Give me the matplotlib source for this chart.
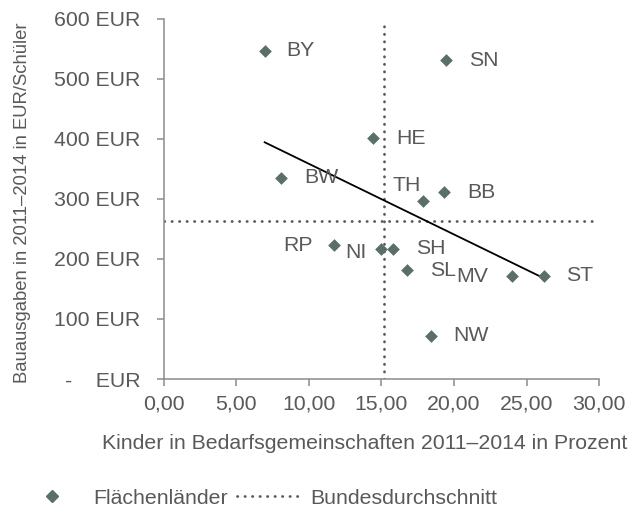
import numpy as np
import matplotlib
matplotlib.use("Agg")
import matplotlib.pyplot as plt
from matplotlib.lines import Line2D

# Daten
laender = ["BY", "SN", "HE", "BW", "TH", "BB", "RP", "NI", "SH", "SL", "MV", "ST", "NW"]
kinder_prozent = [6.95, 19.45, 14.45, 8.1, 17.85, 19.3, 11.75, 14.95, 15.8, 16.75, 24.0, 26.2, 18.4]
bauausgaben = [547, 531, 401, 335, 296, 311, 223, 217, 217, 181, 171, 172, 72]
bund_x = 15.2
bund_y = 264

x_ticks = [0, 5, 10, 15, 20, 25, 30]
y_ticks = [0, 100, 200, 300, 400, 500, 600]

# Beschriftungspositionen (Pixelversatz, Ausrichtung)
label_offsets = {
    "BY": (22, 0, "left"), "SN": (23, 0, "left"), "HE": (23, 0, "left"),
    "BW": (23, 0, "left"), "TH": (-2, 16, "right"), "BB": (23, 0, "left"),
    "RP": (-22, 0, "right"), "NI": (-14, -4, "right"), "SH": (23, 0, "left"),
    "SL": (23, 0, "left"), "MV": (-24, 0, "right"), "ST": (22, 0, "left"),
    "NW": (22, 0, "left"),
}

textfarbe = "#595959"
punktfarbe = "#5a7066"
achsenfarbe = "#8c8c8c"
fs = 15.3

plt.rcParams['font.family'] = ['Liberation Sans', 'DejaVu Sans']

fig = plt.figure(figsize=(6.4, 5.09), dpi=100)
ax = fig.add_axes([0.256, 0.2554, 0.68, 0.7073])

# Bundesdurchschnitt
ax.axvline(bund_x, ymax=0.99, color=textfarbe, lw=2.0, linestyle=(0, (0.1, 2.6)),
           dash_capstyle='round', zorder=1)
ax.axhline(bund_y, xmax=0.995, color=textfarbe, lw=2.0, linestyle=(0, (0.1, 2.6)),
           dash_capstyle='round', zorder=1)

# Punkte
ax.scatter(kinder_prozent, bauausgaben, marker='D', s=42, color=punktfarbe,
           linewidths=0, zorder=3)

# lineare Trendlinie
m, b = np.polyfit(kinder_prozent, bauausgaben, 1)
xs = np.array([min(kinder_prozent), max(kinder_prozent)])
ax.plot(xs, m * xs + b, color='black', lw=1.3, zorder=2)

for name, x, y in zip(laender, kinder_prozent, bauausgaben):
    dx, dy, ha = label_offsets[name]
    ax.annotate(name, (x, y), xytext=(dx, dy), textcoords='offset pixels',
                ha=ha, va='center', fontsize=fs, color=textfarbe)

ax.set_xlim(0, 30)
ax.set_ylim(0, 600)
ax.set_xticks(x_ticks)
ax.set_yticks(y_ticks)
ax.set_xticklabels([f"{v:.2f}".replace(".", ",") for v in x_ticks])
ax.set_yticklabels(["-    EUR" if v == 0 else f"{v} EUR" for v in y_ticks])

for side in ["top", "right"]:
    ax.spines[side].set_visible(False)
for side in ["left", "bottom"]:
    ax.spines[side].set_color(achsenfarbe)
    ax.spines[side].set_linewidth(1.1)
ax.tick_params(axis='both', direction='out', length=5, width=1.1,
               color=achsenfarbe, labelcolor=textfarbe, labelsize=fs)
ax.tick_params(axis='y', pad=12)
ax.tick_params(axis='x', pad=6)

ax.set_xlabel("Kinder in Bedarfsgemeinschaften 2011–2014 in Prozent",
              fontsize=fs, color=textfarbe)
ax.xaxis.set_label_coords(0.462, -0.152)
ax.set_ylabel("Bauausgaben in 2011–2014 in EUR/Schüler", fontsize=13.3,
              color=textfarbe)
ax.yaxis.set_label_coords(-0.306, 0.49)

handles = [
    Line2D([], [], marker='D', color=punktfarbe, linestyle='none', markersize=6.5),
    Line2D([], [], color=textfarbe, lw=2.0, linestyle=(0, (0.1, 2.6)),
           dash_capstyle='round'),
]
fig.legend(handles, ["Flächenländer", "Bundesdurchschnitt"], ncol=2,
           loc='center', bbox_to_anchor=(0.404, 0.0216), frameon=False,
           fontsize=fs, labelcolor=textfarbe, handlelength=3.1,
           handletextpad=0.36, columnspacing=0.45, borderpad=0)

fig.savefig("out.png", dpi=100)
